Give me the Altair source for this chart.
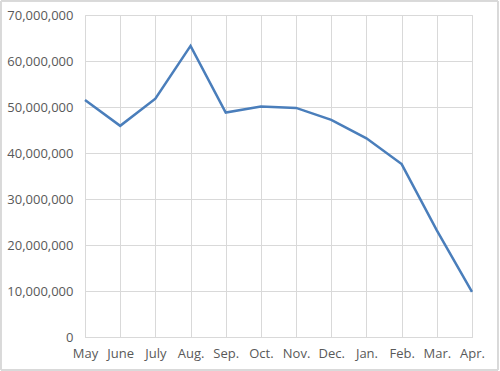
import altair as alt
import pandas as pd

months = ["May", "June", "July", "Aug.", "Sep.", "Oct.", "Nov.", "Dec.", "Jan.", "Feb.", "Mar.", "Apr."]
values = [51500000, 45900000, 51800000, 63300000, 48800000, 50100000, 49800000,
          47200000, 43200000, 37600000, 23200000, 9800000]
y_ticks = [0, 10000000, 20000000, 30000000, 40000000, 50000000, 60000000, 70000000]

df = pd.DataFrame({"month": months, "value": values})

line = alt.Chart(df).mark_line(color="#4A7EBB", strokeWidth=2.5).encode(
    x=alt.X("month:N", sort=months,
            scale=alt.Scale(type="point", padding=0),
            axis=alt.Axis(title=None, labelAngle=0, grid=True, gridColor="#D9D9D9",
                          ticks=False, domain=True, domainColor="#D9D9D9",
                          labelFont="Open Sans", labelFontSize=13, labelColor="#595959",
                          labelPadding=10)),
    y=alt.Y("value:Q", scale=alt.Scale(domain=[0, 70000000], nice=False),
            axis=alt.Axis(title=None, values=y_ticks,
                          labelExpr="format(datum.value, ',')", grid=True,
                          gridColor="#D9D9D9", ticks=False, domain=False,
                          labelFont="Open Sans", labelFontSize=13, labelColor="#595959",
                          labelPadding=12)),
)

border = alt.Chart(df).mark_rect(fill=None, stroke="#D9D9D9", strokeWidth=1).encode(
    x=alt.value(-84), x2=alt.value(413), y=alt.value(-14), y2=alt.value(355)
)

chart = alt.layer(border, line).properties(
    width=387, height=322,
    autosize=alt.AutoSizeParams(type="none"),
    padding={"left": 85, "top": 15, "right": 28, "bottom": 34},
).configure_view(stroke=None).configure(background="white")

chart.save("out.html", embed_options={"renderer": "svg", "actions": False})
